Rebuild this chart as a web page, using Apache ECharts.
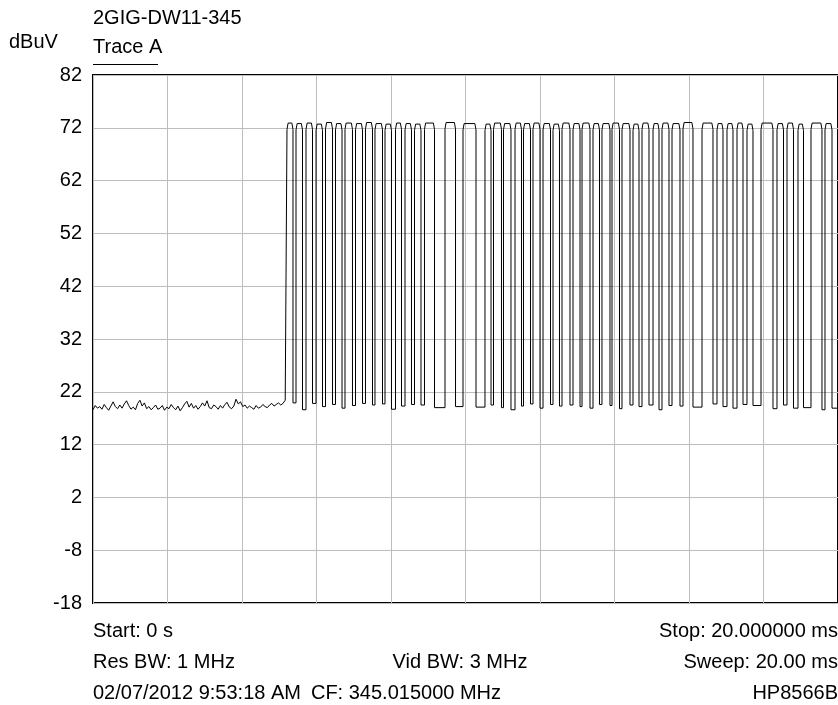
<!DOCTYPE html>
<html>
<head>
<meta charset="utf-8">
<script src="https://cdn.jsdelivr.net/npm/echarts@6/dist/echarts.min.js"></script>
<style>
html,body{margin:0;padding:0;background:#fff;}
#chart{width:838px;height:705px;}
</style>
</head>
<body>
<div id="chart"></div>
<script>
// ---- data ----
const chartTitle = '2GIG-DW11-345';
const yUnit = 'dBuV';
const traceName = 'Trace A';
const yTicks = [-18, -8, 2, 12, 22, 32, 42, 52, 62, 72, 82];
const sweepStartMs = 0;
const sweepStopMs = 20;

// noise floor before the burst: sample spacing 0.06 ms
const noiseStepMs = 0.06;
const noiseLevels = [
  18.6, 19.4, 18.9, 19.2, 18.7, 19.6, 19.0, 18.5, 19.3, 20.1, 19.2, 18.8, 19.5, 18.9, 19.7, 20.3,
  19.4, 18.7, 19.1, 18.6, 19.8, 20.4, 19.3, 19.9, 18.8, 19.2, 18.6, 19.0, 19.5, 18.7, 18.9, 19.4,
  18.5, 19.1, 18.8, 19.6, 19.0, 18.6, 19.3, 18.4, 19.0, 19.7, 20.2, 19.1, 19.8, 18.9, 19.4, 18.7,
  19.2, 19.9, 19.3, 20.3, 19.0, 18.8, 19.5, 19.2, 18.7, 19.4, 18.9, 19.6, 20.0, 19.1, 18.8, 19.3,
  20.6, 19.7, 20.1, 19.2, 19.5, 18.9, 19.3, 19.0, 18.7, 19.4, 18.9, 19.1, 19.6, 19.2, 19.0, 19.5,
  19.8, 19.3, 19.6, 19.9, 19.5, 19.8, 20.4
];

// burst: rising and falling edge times (ms) of each high pulse
const riseMs = [
  5.208, 5.450, 5.718, 5.987, 6.242, 6.510, 6.765, 7.047, 7.315, 7.570,
  7.839, 8.121, 8.376, 8.631, 8.899, 9.450, 9.933, 10.523, 10.752, 11.020,
  11.329, 11.557, 11.812, 12.081, 12.349, 12.591, 12.886, 13.128, 13.423, 13.664,
  13.933, 14.201, 14.497, 14.738, 15.034, 15.275, 15.544, 15.839, 16.349, 16.752,
  17.020, 17.289, 17.557, 17.933, 18.362, 18.631, 18.926, 19.275, 19.651
];
const fallMs = [
  5.369, 5.624, 5.893, 6.161, 6.430, 6.685, 6.966, 7.235, 7.503, 7.772,
  8.013, 8.282, 8.550, 8.805, 9.168, 9.732, 10.282, 10.685, 10.966, 11.221,
  11.503, 11.745, 12.000, 12.282, 12.523, 12.805, 13.074, 13.342, 13.597, 13.879,
  14.134, 14.416, 14.658, 14.926, 15.195, 15.463, 15.758, 16.107, 16.644, 16.913,
  17.181, 17.450, 17.718, 18.255, 18.537, 18.805, 19.074, 19.570, 19.839
];
// level on top of each pulse (dBuV)
const highLevels = [
  72.9, 72.8, 72.9, 72.7, 73.0, 72.8, 72.9, 72.8, 73.0, 72.8,
  72.7, 72.9, 72.8, 72.7, 72.9, 73.0, 72.8, 72.7, 72.9, 72.8,
  72.9, 72.8, 72.9, 72.8, 72.7, 72.9, 72.8, 72.9, 72.8, 72.8,
  72.9, 72.8, 72.7, 72.9, 72.8, 72.9, 72.8, 73.0, 72.9, 72.8,
  72.8, 72.9, 72.7, 72.9, 72.8, 72.9, 72.7, 72.9, 72.8
];
// level reached in the low gap after each pulse (dBuV)
const lowLevels = [
  19.9, 18.6, 19.8, 19.2, 19.6, 18.9, 19.4, 19.8, 19.5, 19.7,
  18.7, 19.3, 19.6, 19.5, 19.0, 19.2, 19.1, 19.5, 19.0, 18.6,
  19.3, 19.7, 18.9, 19.6, 19.3, 19.5, 19.2, 18.9, 19.6, 19.4,
  18.8, 19.5, 19.2, 19.5, 18.6, 19.4, 19.3, 19.1, 19.7, 19.2,
  18.9, 19.6, 19.4, 18.8, 19.5, 18.9, 19.0, 18.6, 18.9
];

const footerRows = [
  ['Start: 0 s', '', 'Stop: 20.000000 ms'],
  ['Res BW: 1 MHz', 'Vid BW: 3 MHz', 'Sweep: 20.00 ms'],
  ['02/07/2012 9:53:18 AM', 'CF: 345.015000 MHz', 'HP8566B']
];

// ---- build the trace ----
const cornerMs = 0.03; // rounding of the pulse tops
const trace = [];
noiseLevels.forEach((v, i) => trace.push([+(sweepStartMs + i * noiseStepMs).toFixed(3), v]));
let prevLow = noiseLevels[noiseLevels.length - 1];
for (let i = 0; i < riseMs.length; i++) {
  trace.push([riseMs[i], prevLow]);
  trace.push([riseMs[i], highLevels[i] - 1.2]);
  trace.push([riseMs[i] + cornerMs, highLevels[i]]);
  trace.push([fallMs[i] - cornerMs, highLevels[i]]);
  trace.push([fallMs[i], highLevels[i] - 1.2]);
  trace.push([fallMs[i], lowLevels[i]]);
  prevLow = lowLevels[i];
}
trace.push([sweepStopMs, prevLow]);

// ---- chart ----
const FONT = 'Liberation Sans, Arial, sans-serif';
const FS = 20;
const chart = echarts.init(document.getElementById('chart'), null, {renderer: 'canvas'});

const L = 93, R = 838, T = 75, B = 603;
const graphics = [
  {type: 'text', x: L, y: 18, style: {text: chartTitle, font: FS + 'px ' + FONT, fill: '#000', textVerticalAlign: 'middle'}},
  {type: 'text', x: 9, y: 42, style: {text: yUnit, font: FS + 'px ' + FONT, fill: '#000', textVerticalAlign: 'middle'}},
  {type: 'text', x: L, y: 47, style: {text: traceName, font: FS + 'px ' + FONT, fill: '#000', textVerticalAlign: 'middle'}},
  {type: 'line', shape: {x1: L, y1: 64.5, x2: 158, y2: 64.5}, style: {stroke: '#000', lineWidth: 1}}
];
const rowY = [631, 662, 693];
footerRows.forEach((row, r) => {
  graphics.push({type: 'text', x: L, y: rowY[r], style: {text: row[0], font: FS + 'px ' + FONT, fill: '#000', textAlign: 'left', textVerticalAlign: 'middle'}});
  if (row[1]) graphics.push({type: 'text', x: r === 1 ? 460 : 406, y: rowY[r], style: {text: row[1], font: FS + 'px ' + FONT, fill: '#000', textAlign: 'center', textVerticalAlign: 'middle'}});
  graphics.push({type: 'text', x: R, y: rowY[r], style: {text: row[2], font: FS + 'px ' + FONT, fill: '#000', textAlign: 'right', textVerticalAlign: 'middle'}});
});

chart.setOption({
  animation: false,
  backgroundColor: '#fff',
  grid: {left: L, right: 838 - R, top: T, bottom: 705 - B, show: true, borderColor: '#000', borderWidth: 2, containLabel: false},
  xAxis: {
    type: 'value', min: sweepStartMs, max: sweepStopMs, interval: 2,
    axisLine: {show: false}, axisTick: {show: false}, axisLabel: {show: false},
    splitLine: {show: true, lineStyle: {color: '#bdbdbd', width: 1}}
  },
  yAxis: {
    type: 'value', min: yTicks[0], max: yTicks[yTicks.length - 1], interval: 10,
    axisLine: {show: false}, axisTick: {show: false},
    axisLabel: {color: '#000', fontSize: FS, fontFamily: FONT, margin: 11},
    splitLine: {show: true, lineStyle: {color: '#bdbdbd', width: 1}}
  },
  series: [{
    type: 'line', data: trace, showSymbol: false, symbol: 'none',
    lineStyle: {color: '#000', width: 1}, silent: true, z: 3
  }],
  graphic: graphics
});
</script>
</body>
</html>
